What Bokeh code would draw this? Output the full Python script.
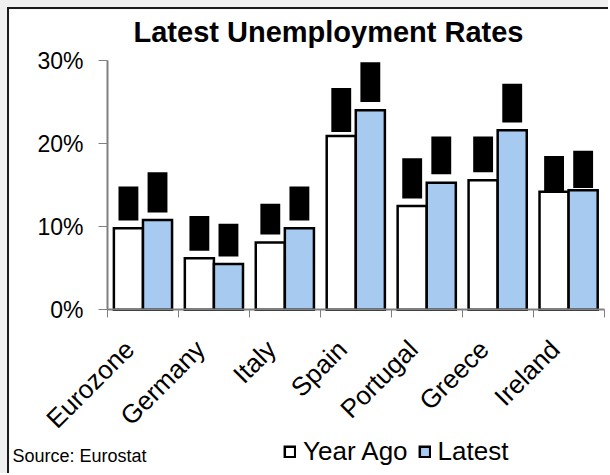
from math import pi
from bokeh.plotting import figure
from bokeh.models import (ColumnDataSource, Range1d, LinearAxis, FixedTicker,
                          PrintfTickFormatter, Label, Legend, LegendItem)
from bokeh.transform import dodge
from bokeh.layouts import column
from bokeh.embed import file_html
from bokeh.resources import INLINE

categories = ["Eurozone", "Germany", "Italy", "Spain", "Portugal", "Greece", "Ireland"]
year_ago = [9.8, 6.2, 8.1, 20.9, 12.5, 15.6, 14.2]
latest = [10.8, 5.5, 9.8, 24.0, 15.3, 21.6, 14.4]
# black (obscured) data-label boxes above each bar, in % units
year_ago_label_bottom = [10.75, 7.1, 9.05, 21.4, 13.4, 16.55, 14.15]
year_ago_label_top = [14.85, 11.3, 12.75, 26.7, 18.25, 20.85, 18.5]
latest_label_bottom = [11.7, 6.4, 10.75, 25.0, 16.3, 22.55, 14.65]
latest_label_top = [16.55, 10.35, 14.85, 29.8, 20.85, 27.2, 19.15]
y_ticks = [0, 10, 20, 30]

FONT = "Liberation Sans"
n = len(categories)
slot = [i + 0.5 for i in range(n)]  # centre of each category slot
LABEL_SHIFT = 0.19                  # category labels sit a little left of the slot centre
label_pos = [s - LABEL_SHIFT for s in slot]

# ---- layout geometry (pixels) ----
W, H = 601, 466          # canvas size inside the frame border
OX, OY = 9, 9            # page offset of the canvas
AX_LEFT = 98             # x pixel (canvas) of the value axis
UNIT = 70.94             # pixels per category slot
AX_BOTTOM = 300.3        # y pixel (canvas, from top) of 0%
PER = 8.31               # pixels per percentage point

X0, X1 = -AX_LEFT / UNIT, (W - AX_LEFT) / UNIT
Y0, Y1 = -(H - AX_BOTTOM) / PER, AX_BOTTOM / PER


def x_at(px):  # page pixel -> data x
    return (px - OX - AX_LEFT) / UNIT


def y_at(py):  # page pixel -> data y
    return (AX_BOTTOM - (py - OY)) / PER


src = ColumnDataSource(dict(cat=categories, slot=slot, ya=year_ago, lt=latest,
                            ya_lb=year_ago_label_bottom, ya_lt=year_ago_label_top,
                            lt_lb=latest_label_bottom, lt_lt=latest_label_top))

p = figure(x_range=Range1d(X0, X1), y_range=Range1d(Y0, Y1),
           width=W, height=H, output_backend="svg", toolbar_location=None,
           x_axis_type=None, y_axis_type=None,
           min_border_left=0, min_border_right=0, min_border_top=0, min_border_bottom=0,
           background_fill_color="white", border_fill_color="white")
p.margin = (7, 0, 0, 7)
p.styles = {"border-top": "2px solid #1a1a1a", "border-left": "2px solid #1a1a1a"}
p.outline_line_color = None
p.grid.visible = False

# value axis
yax = LinearAxis(fixed_location=0, bounds=(y_ticks[0], y_ticks[-1]),
                 ticker=FixedTicker(ticks=y_ticks),
                 formatter=PrintfTickFormatter(format="%d%%"),
                 major_tick_out=9, major_tick_in=0, minor_tick_line_color=None,
                 axis_line_color="#808080", axis_line_width=2,
                 major_tick_line_color="#808080", major_tick_line_width=1,
                 major_label_standoff=15, major_label_text_font=FONT,
                 major_label_text_font_size="23px", major_label_text_color="black")
p.add_layout(yax, "left")

# category axis: labels near slot centres, minor ticks on slot boundaries
xax = LinearAxis(fixed_location=0, bounds=(0, n),
                 ticker=FixedTicker(ticks=label_pos, minor_ticks=list(range(n + 1))),
                 major_label_overrides={s: c for s, c in zip(label_pos, categories)},
                 major_label_orientation=pi / 4,
                 major_tick_line_color=None, major_tick_out=0, major_tick_in=0,
                 minor_tick_line_color="#808080", minor_tick_out=8, minor_tick_in=0,
                 axis_line_color="#808080", axis_line_width=2,
                 major_label_standoff=27, major_label_text_font=FONT,
                 major_label_text_font_size="26px", major_label_text_color="black")
p.add_layout(xax, "below")

r_ya = p.vbar(x=dodge("slot", -0.205), top="ya", width=0.41, source=src,
              fill_color="white", line_color="black", line_width=2.5, line_join="miter")
r_lt = p.vbar(x=dodge("slot", 0.205), top="lt", width=0.41, source=src,
              fill_color="#a6caf0", line_color="black", line_width=2.5, line_join="miter")
p.vbar(x=dodge("slot", -0.205), bottom="ya_lb", top="ya_lt", width=0.28,
       source=src, fill_color="black", line_color=None)
p.vbar(x=dodge("slot", 0.205), bottom="lt_lb", top="lt_lt", width=0.28,
       source=src, fill_color="black", line_color=None)

p.add_layout(Label(x=x_at(328), y=y_at(31), text="Latest Unemployment Rates",
                   text_font=FONT, text_font_size="29px", text_font_style="bold",
                   text_color="black", text_align="center", text_baseline="alphabetic"))
p.add_layout(Label(x=x_at(12), y=y_at(455), text="Source: Eurostat",
                   text_font=FONT, text_font_size="18px", text_color="black",
                   text_align="left", text_baseline="alphabetic"))

legend = Legend(items=[LegendItem(label="Year Ago", renderers=[r_ya]),
                       LegendItem(label="Latest", renderers=[r_lt])],
                location=(283 - OX, 8), orientation="horizontal",
                glyph_width=13, glyph_height=13, label_standoff=7, spacing=10,
                padding=0, margin=0, border_line_color=None, background_fill_alpha=0,
                label_text_font=FONT, label_text_font_size="26px",
                label_text_color="black")
p.add_layout(legend)

layout = column(p, styles={"background-color": "#f0f0f0"})
open("out.html", "w").write(file_html(layout, INLINE))
